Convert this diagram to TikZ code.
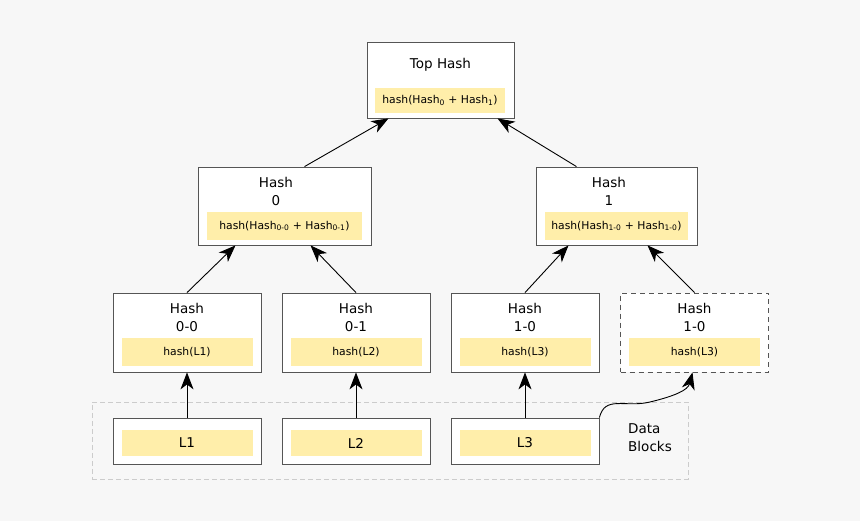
\documentclass[tikz,border=0pt]{standalone}
\usepackage{fontspec}
\setmainfont{DejaVu Sans}
\usetikzlibrary{arrows.meta}
\definecolor{bg}{HTML}{F7F7F7}
\definecolor{yel}{HTML}{FFEEAA}
\definecolor{edge}{HTML}{555555}
\begin{document}
\begin{tikzpicture}[x=1pt,y=-1pt,
  box/.style={draw=edge,fill=white,line width=0.8pt,inner sep=0},
  dbox/.style={box,dash pattern=on 5pt off 4pt},
  hl/.style={fill=yel,inner sep=0},
  ttl/.style={font=\fontsize{13.5}{18}\selectfont,align=center},
  sm/.style={font=\fontsize{10.8}{12}\selectfont},
  arr/.style={-{Stealth[length=17pt,width=13pt,inset=5pt]},line width=0.9pt}]
\fill[bg] (0,0) rectangle (860,521);
\useasboundingbox (0,0) rectangle (860,521);
% group
\node[draw=black!20,dash pattern=on 5pt off 3pt,line width=0.9pt,minimum width=596pt,minimum height=77pt,inner sep=0] (grp) at (390,440.5) {};
% top
\node[box,minimum width=147pt,minimum height=76pt] (top) at (440.5,80) {};
\node[ttl] (tt) at (440.5,65) {Top Hash};
\node[hl,minimum width=130pt,minimum height=25pt,sm] (th) at (440,100.5) {hash(Hash\textsubscript{0} + Hash\textsubscript{1})};
% level 1
\node[box,minimum width=173pt,minimum height=78pt] (h0) at (284.5,206) {};
\node[ttl] (h0t) at (276,191) {Hash\\0};
\node[hl,minimum width=155pt,minimum height=28pt,sm] (h0h) at (284.5,226) {hash(Hash\textsubscript{0-0} + Hash\textsubscript{0-1})};
\node[box,minimum width=161pt,minimum height=78pt] (h1) at (616.5,206) {};
\node[ttl] (h1t) at (609,191) {Hash\\1};
\node[hl,minimum width=143pt,minimum height=28pt,sm] (h1h) at (616.5,226) {hash(Hash\textsubscript{1-0} + Hash\textsubscript{1-0})};
% leaves
\foreach \n/\x/\t/\d/\s in {a/187/0-0/L1/box, b/356/0-1/L2/box, c/525/1-0/L3/box, d/694.5/1-0/L3/dbox}{
  \node[\s,minimum width=148pt,minimum height=79pt] (\n) at (\x,332.5) {};
  \node[ttl] (\n t) at (\x,317) {Hash\\\t};
  \node[hl,minimum width=131pt,minimum height=28pt,sm] (\n h) at (\x,352) {hash(\d)};
}
\foreach \n/\x/\d in {a/187/L1, b/356/L2, c/525/L3}{
  \node[box,minimum width=148pt,minimum height=46pt] (\n D) at (\x,441) {};
  \node[hl,minimum width=131pt,minimum height=26pt,ttl] (\n Dh) at (\x,443) {\d};
}
\node[ttl,align=left] (lbl) at (650,438) {Data\\Blocks};
% arrows
\draw[arr] (aD.north) -- (a.south);
\draw[arr] (bD.north) -- (b.south);
\draw[arr] (cD.north) -- (c.south);
\draw[arr] (cD.north east) .. controls (605,395) and (625,408) .. (650,402) .. controls (675,396) and (688,390) .. ([xshift=-2pt]d.south);
\draw[arr] (a.north) -- ([xshift=-49pt]h0.south);
\draw[arr] (b.north) -- ([xshift=26pt]h0.south);
\draw[arr] (c.north) -- ([xshift=-48pt]h1.south);
\draw[arr] (d.north) -- ([xshift=31pt]h1.south);
\draw[arr] ([xshift=20pt]h0.north) -- ([xshift=-52pt]top.south);
\draw[arr] ([xshift=-40pt]h1.north) -- ([xshift=57pt]top.south);
\end{tikzpicture}
\end{document}
